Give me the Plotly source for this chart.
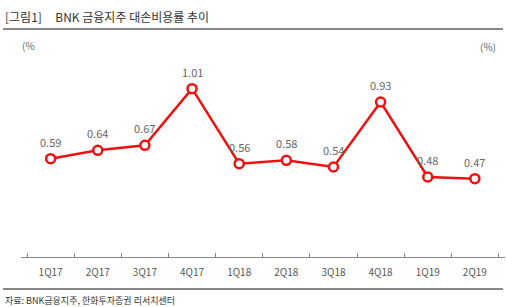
import plotly.graph_objects as go

categories = ["1Q17", "2Q17", "3Q17", "4Q17", "1Q18", "2Q18", "3Q18", "4Q18", "1Q19", "2Q19"]
values = [0.59, 0.64, 0.67, 1.01, 0.56, 0.58, 0.54, 0.93, 0.48, 0.47]
value_labels = ["0.59", "0.64", "0.67", "1.01", "0.56", "0.58", "0.54", "0.93", "0.48", "0.47"]

title_text = "[그림1]&nbsp;&nbsp;&nbsp;&nbsp;&nbsp;BNK 금융지주 대손비용률 추이"
source_text = "자료: BNK금융지주, 한화투자증권 리서치센터"

W, H = 506, 307
KR = "Noto Sans CJK KR"
RED = "#ee1111"

fig = go.Figure()
fig.add_trace(go.Scatter(
    x=categories, y=values, mode="lines+markers",
    line=dict(color=RED, width=2.5),
    marker=dict(size=9, color="white", line=dict(color=RED, width=2.5)),
    hoverinfo="skip", showlegend=False,
))

annotations = []
for c, v, t in zip(categories, values, value_labels):
    annotations.append(dict(x=c, y=v, xref="x", yref="y", text=t, showarrow=False,
                            yshift=17, font=dict(family=KR, size=11, color="#666666")))

def px(x):
    return x / W

def py(y):
    return (H - y) / H

annotations += [
    dict(x=px(3), y=py(16), xref="paper", yref="paper", xanchor="left", yanchor="middle",
         text=title_text, showarrow=False, font=dict(family=KR, size=12, color="#333333")),
    dict(x=px(20), y=py(46), xref="paper", yref="paper", xanchor="left", yanchor="middle",
         text="(%", showarrow=False, font=dict(family=KR, size=10, color="#666666")),
    dict(x=px(498), y=py(47), xref="paper", yref="paper", xanchor="right", yanchor="middle",
         text="(%)", showarrow=False, font=dict(family=KR, size=10, color="#666666")),
    dict(x=px(3), y=py(300), xref="paper", yref="paper", xanchor="left", yanchor="middle",
         text=source_text, showarrow=False, font=dict(family=KR, size=9, color="#333333")),
]

shapes = [
    dict(type="line", xref="paper", yref="paper", x0=px(3), x1=px(503), y0=py(29), y1=py(29),
         line=dict(color="#888888", width=2)),
    dict(type="line", xref="paper", yref="paper", x0=px(3), x1=px(503), y0=py(289), y1=py(289),
         line=dict(color="#888888", width=2)),
]

fig.update_layout(
    width=W, height=H,
    margin=dict(l=0, r=0, t=0, b=0),
    paper_bgcolor="white", plot_bgcolor="white",
    annotations=annotations, shapes=shapes,
    xaxis=dict(
        domain=[px(20.8), px(504.7)],
        type="category", showgrid=False, zeroline=False,
        showline=True, linecolor="#888888", linewidth=1,
        ticks="inside", ticklen=4, tickcolor="#888888", tickson="boundaries",
        ticklabelstandoff=6,
        tickfont=dict(family=KR, size=10, color="#555555"),
        fixedrange=True,
    ),
    yaxis=dict(
        domain=[py(257), py(57)],
        range=[0, 1.2], visible=False, fixedrange=True,
    ),
)

fig.write_html("out.html")
